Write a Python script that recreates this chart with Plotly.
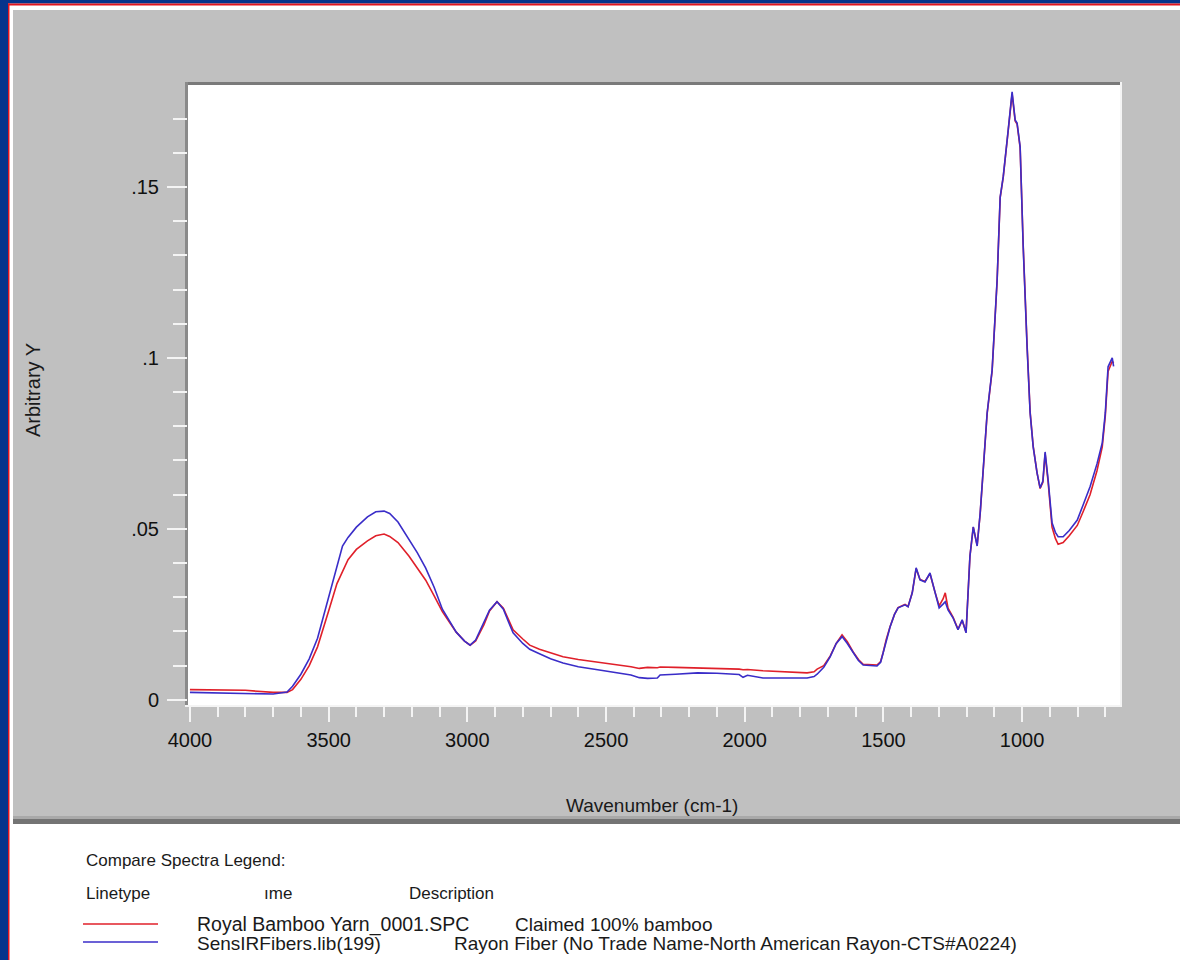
import plotly.graph_objects as go

# ---------------- data ----------------
wavenumber = [4000, 3900, 3800, 3700, 3650, 3630, 3600, 3570, 3540, 3500, 3470, 3450, 3430, 3400,
              3360, 3330, 3300, 3280, 3250, 3210, 3180, 3150, 3120, 3090, 3060, 3040, 3010, 2990,
              2970, 2940, 2920, 2893, 2870, 2850, 2835, 2800, 2775, 2740, 2700, 2655, 2600, 2530,
              2470, 2410, 2380, 2350, 2315, 2305, 2250, 2170, 2100, 2050, 2020, 2006, 1990, 1934,
              1850, 1775, 1750, 1739, 1715, 1692, 1670, 1649, 1630, 1609, 1590, 1573, 1523, 1510,
              1501, 1490, 1476, 1460, 1447, 1422, 1411, 1396, 1382, 1368, 1350, 1332, 1314, 1299,
              1285, 1277, 1267, 1249, 1231, 1216, 1202, 1195, 1188, 1176, 1162, 1151, 1140, 1126,
              1108, 1090, 1079, 1068, 1050, 1036, 1025, 1018, 1007, 996, 982, 971, 960, 946, 935,
              925, 917, 906, 892, 880, 870, 852, 830, 801, 780, 755, 730, 711, 700, 690, 675, 670]

bamboo_yarn = [0.0030, 0.0030, 0.0028, 0.0022, 0.0022, 0.0030, 0.0060, 0.0100, 0.0155, 0.0260, 0.0340,
               0.0375, 0.0410, 0.0440, 0.0465, 0.0480, 0.0485, 0.0478, 0.0460, 0.0420, 0.0385, 0.0350,
               0.0305, 0.0258, 0.0222, 0.0198, 0.0172, 0.0160, 0.0172, 0.0220, 0.0260, 0.0287, 0.0268,
               0.0230, 0.0205, 0.0178, 0.0160, 0.0148, 0.0137, 0.0126, 0.0118, 0.0111, 0.0104, 0.0097,
               0.0092, 0.0095, 0.0094, 0.0096, 0.0095, 0.0094, 0.0093, 0.0091, 0.0090, 0.0088, 0.0089,
               0.0085, 0.0082, 0.0079, 0.0082, 0.0090, 0.0100, 0.0128, 0.0165, 0.0190, 0.0170, 0.0140,
               0.0118, 0.0104, 0.0102, 0.0112, 0.0138, 0.0176, 0.0214, 0.0250, 0.0270, 0.0279, 0.0273,
               0.0313, 0.0384, 0.0352, 0.0346, 0.0369, 0.0315, 0.0275, 0.0295, 0.0313, 0.0268, 0.0242,
               0.0207, 0.0232, 0.0198, 0.0330, 0.0420, 0.0505, 0.0452, 0.0545, 0.0678, 0.0836, 0.0962,
               0.1225, 0.1468, 0.1528, 0.1665, 0.1772, 0.1693, 0.1684, 0.1614, 0.1330, 0.1038, 0.0842,
               0.0742, 0.0664, 0.0618, 0.0636, 0.0720, 0.0636, 0.0505, 0.0472, 0.0455, 0.0460, 0.0480,
               0.0510, 0.0550, 0.0600, 0.0670, 0.0740, 0.0830, 0.0960, 0.0990, 0.0985]

rayon_reference = [0.0022, 0.0021, 0.0018, 0.0017, 0.0023, 0.0040, 0.0075, 0.0120, 0.0180, 0.0300, 0.0390,
                   0.0450, 0.0475, 0.0505, 0.0535, 0.0550, 0.0552, 0.0545, 0.0520, 0.0470, 0.0430, 0.0385,
                   0.0330, 0.0265, 0.0225, 0.0198, 0.0172, 0.0160, 0.0175, 0.0225, 0.0262, 0.0287, 0.0265,
                   0.0225, 0.0196, 0.0165, 0.0148, 0.0135, 0.0120, 0.0108, 0.0097, 0.0088, 0.0080, 0.0073,
                   0.0065, 0.0063, 0.0064, 0.0073, 0.0075, 0.0079, 0.0078, 0.0076, 0.0074, 0.0066, 0.0072,
                   0.0064, 0.0063, 0.0064, 0.0068, 0.0075, 0.0095, 0.0126, 0.0165, 0.0185, 0.0165, 0.0137,
                   0.0115, 0.0102, 0.0099, 0.0110, 0.0137, 0.0175, 0.0213, 0.0250, 0.0269, 0.0278, 0.0272,
                   0.0313, 0.0386, 0.0351, 0.0345, 0.0371, 0.0313, 0.0269, 0.0280, 0.0287, 0.0263, 0.0240,
                   0.0205, 0.0234, 0.0196, 0.0320, 0.0420, 0.0506, 0.0450, 0.0547, 0.0680, 0.0839, 0.0965,
                   0.1228, 0.1470, 0.1530, 0.1667, 0.1778, 0.1696, 0.1687, 0.1617, 0.1325, 0.1032, 0.0839,
                   0.0740, 0.0664, 0.0620, 0.0640, 0.0725, 0.0643, 0.0518, 0.0490, 0.0477, 0.0477, 0.0495,
                   0.0526, 0.0570, 0.0623, 0.0690, 0.0751, 0.0839, 0.0974, 0.1000, 0.0975]

x_major_ticks = [4000, 3500, 3000, 2500, 2000, 1500, 1000]
x_major_labels = ["4000", "3500", "3000", "2500", "2000", "1500", "1000"]
x_minor_ticks = [3900, 3800, 3700, 3600, 3400, 3300, 3200, 3100, 2900, 2800, 2700, 2600, 2400, 2300,
                 2200, 2100, 1900, 1800, 1700, 1600, 1400, 1300, 1200, 1100, 900, 800, 700]
y_major_ticks = [0, 0.05, 0.1, 0.15]
y_major_labels = ["0", ".05", ".1", ".15"]
y_minor_ticks = [0.01, 0.02, 0.03, 0.04, 0.06, 0.07, 0.08, 0.09, 0.11, 0.12, 0.13, 0.14, 0.16, 0.17]

series_names = ["Royal Bamboo Yarn_0001.SPC", "SensIRFibers.lib(199)"]
series_desc = ["Claimed 100% bamboo", "Rayon Fiber (No Trade Name-North American Rayon-CTS#A0224)"]
series_colors = ["#e0202a", "#3a2dc8"]

# ---------------- layout helpers ----------------
W, H = 1180, 960
PL, PR, PT, PB = 188, 1120, 85, 705


def px(x):
    return (x - PL) / (PR - PL)


def py(y):
    return (PB - y) / (PB - PT)


def rect(x0, y0, x1, y1, color, layer="below"):
    return dict(type="rect", xref="paper", yref="paper", x0=px(x0), x1=px(x1), y0=py(y0), y1=py(y1),
                fillcolor=color, line=dict(width=0), layer=layer)


FONT = "Liberation Sans, Arial, sans-serif"

fig = go.Figure()
fig.add_trace(go.Scatter(x=wavenumber, y=bamboo_yarn, mode="lines", name=series_names[0],
                         line=dict(color=series_colors[0], width=1.6), hoverinfo="skip"))
fig.add_trace(go.Scatter(x=wavenumber, y=rayon_reference, mode="lines", name=series_names[1],
                         line=dict(color=series_colors[1], width=1.6), hoverinfo="skip"))

shapes = [
    # grey chart panel
    rect(9, 5.5, W, 820, "#ffffff"),
    rect(13, 10, W, 817, "#c0c0c0"),
    rect(13, 816, W, 819, "#a9a9a9"),
    rect(13, 819, W, 824, "#747474"),
    # plot area with inset border
    rect(PL - 3, PT - 3, PR + 2, PB + 2, "#f4f4f4"),
    rect(PL - 3, PT - 3, PR, PT, "#7a7a7a"),
    rect(PL - 3, PT - 3, PL, PB, "#8a8a8a"),
    rect(PL, PT, PR, PB, "#ffffff"),
    # window frame
    rect(0, 0, 8, H, "#06348c", "above"),
    rect(0, 0, W, 3.5, "#06348c", "above"),
    rect(8, 3.5, 9.5, H, "#e0141e", "above"),
    rect(8, 3.5, W, 5.5, "#e0141e", "above"),
]

# legend sample lines
legend_rows_y = [924, 943]
legend_line_y = [924, 942]
for c, ly in zip(series_colors, legend_line_y):
    shapes.append(dict(type="line", xref="paper", yref="paper", x0=px(83), x1=px(158), y0=py(ly), y1=py(ly),
                       line=dict(color=c, width=1.5)))

ann = []


def text(x, y, s, size=18, xanchor="left", angle=0):
    ann.append(dict(xref="paper", yref="paper", x=px(x), y=py(y), text=s, showarrow=False,
                    xanchor=xanchor, yanchor="middle", textangle=angle,
                    font=dict(family=FONT, size=size, color="#1a1a1a")))


text(33, 390, "Arbitrary Y", size=20, xanchor="center", angle=-90)
text(652, 805, "Wavenumber (cm-1)", size=19, xanchor="center")
text(84, 860, "Compare Spectra Legend:", size=17)
text(84, 893, "Linetype", size=17)
text(262, 893, "ıme", size=17)
text(407, 893, "Description", size=17)
text(195, legend_rows_y[0], series_names[0], size=19.5)
text(513, legend_rows_y[0], series_desc[0], size=19)
text(195, legend_rows_y[1], series_names[1], size=19)
text(452, legend_rows_y[1], series_desc[1], size=19)

fig.update_layout(
    width=W, height=H,
    margin=dict(l=PL, r=W - PR, t=PT, b=H - PB, pad=0),
    paper_bgcolor="#ffffff", plot_bgcolor="rgba(0,0,0,0)",
    showlegend=False,
    shapes=shapes, annotations=ann,
    xaxis=dict(range=[4007, 647], tickmode="array", tickvals=x_major_ticks, ticktext=x_major_labels,
               ticks="outside", ticklen=16, tickwidth=2, tickcolor="#f4f4f4",
               showgrid=False, zeroline=False, showline=False,
               tickfont=dict(family=FONT, size=20, color="#111111"), ticklabelstandoff=1,
               minor=dict(tickmode="array", tickvals=x_minor_ticks, ticks="outside", ticklen=11,
                          tickwidth=2, tickcolor="#f4f4f4", showgrid=False)),
    yaxis=dict(range=[-0.0015, 0.1798], tickmode="array", tickvals=y_major_ticks, ticktext=y_major_labels,
               ticks="outside", ticklen=20, tickwidth=2, tickcolor="#f4f4f4",
               showgrid=False, zeroline=False, showline=False,
               tickfont=dict(family=FONT, size=20, color="#111111"), ticklabelstandoff=4,
               minor=dict(tickmode="array", tickvals=y_minor_ticks, ticks="outside", ticklen=14,
                          tickwidth=2, tickcolor="#f4f4f4", showgrid=False)),
)

fig.write_html("out.html", config={"displayModeBar": False, "staticPlot": True},
               post_script="document.body.style.margin='0';document.body.style.overflow='hidden';")
